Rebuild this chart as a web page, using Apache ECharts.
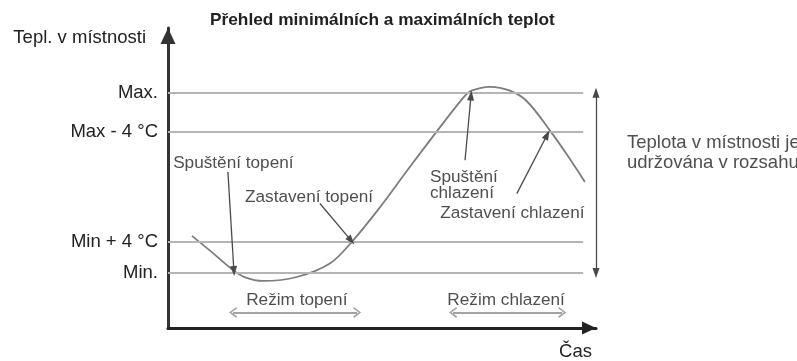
<!DOCTYPE html>
<html>
<head>
<meta charset="utf-8">
<script src="https://cdn.jsdelivr.net/npm/echarts@6/dist/echarts.min.js"></script>
<style>
  html, body { margin: 0; padding: 0; background: #fff; }
  #chart { width: 797px; height: 361px; }
</style>
</head>
<body>
<div id="chart"></div>
<script>
// Schematic room temperature profile: x = time (0..100), y = relative temperature (0..100)
const levelValues = [18.3, 28.8, 65.4, 78.4];
const levelNames = ['Min.', 'Min + 4 °C', 'Max - 4 °C', 'Max.'];
const levelLineEnd = 97;

const curveTime = [5.6, 10.3, 15.2, 18.0, 22.2, 30.1, 37.9, 43.0, 49.5, 56.1, 62.9, 69.2, 70.9, 75.2, 79.9, 83.9, 89.3, 93.2, 97.4];
const curveTemp = [30.7, 25.2, 19.3, 16.9, 15.7, 17.0, 21.6, 28.8, 40.2, 52.9, 65.7, 77.1, 79.1, 80.4, 79.1, 75.5, 65.7, 57.8, 48.7];

// Pointer arrows: [fromX, fromY, toX, toY]
const pointerArrows = [
  [14.0, 52.0, 15.4, 19.0],
  [35.5, 41.5, 42.8, 29.1],
  [69.4, 55.9, 70.8, 77.5],
  [81.5, 44.8, 88.6, 64.4]
];

// Operating mode spans: [startX, endX, y]
const modeSpans = [
  [15.2, 44.2, 5.2],
  [66.6, 92.1, 5.2]
];

// Text annotations: [x, y, text, align]
const notes = [
  [1.2, 54.9, 'Spuštění topení', 'left'],
  [18.0, 43.6, 'Zastavení topení', 'left'],
  [61.2, 47.6, 'Spuštění\nchlazení', 'left'],
  [63.6, 38.3, 'Zastavení chlazení', 'left'],
  [30.1, 9.3, 'Režim topení', 'center'],
  [79.0, 9.3, 'Režim chlazení', 'center']
];

const rangeX = 100;
const rangeNote = 'Teplota v místnosti je\nudržována v rozsahu';
const rangeNoteY = 58.5;

const FONT = '"Liberation Sans", Arial, sans-serif';
const chevron = 'path://M6,0 L12,9 L10.3,10 L6,3 L1.7,10 L0,9 Z';

const chart = echarts.init(document.getElementById('chart'), null, { renderer: 'canvas' });

const option = {
  backgroundColor: '#ffffff',
  animation: false,
  title: {
    text: 'Přehled minimálních a maximálních teplot',
    left: 205,
    top: 7,
    textStyle: { fontFamily: FONT, fontSize: 17.3, fontWeight: 'bold', color: '#222' }
  },
  grid: { left: 168, top: 28, right: 201, bottom: 27, containLabel: false },
  xAxis: {
    type: 'value',
    min: 0,
    max: 100,
    name: 'Čas',
    nameLocation: 'end',
    nameGap: -4,
    nameTextStyle: {
      fontFamily: FONT, fontSize: 18.5, color: '#222',
      align: 'right', verticalAlign: 'top', padding: [14, 0, 0, 0]
    },
    axisLine: {
      show: true,
      symbol: ['none', 'triangle'],
      symbolSize: [13, 14],
      symbolOffset: [0, -7],
      lineStyle: { color: '#222', width: 3 }
    },
    axisTick: { show: false },
    axisLabel: { show: false },
    splitLine: { show: false }
  },
  yAxis: {
    type: 'value',
    min: 0,
    max: 100,
    name: 'Tepl. v místnosti',
    nameLocation: 'end',
    nameGap: -10,
    nameTextStyle: {
      fontFamily: FONT, fontSize: 18.5, color: '#222',
      align: 'right', verticalAlign: 'middle', padding: [0, 22, 0, 0]
    },
    axisLine: {
      show: true,
      symbol: ['none', 'triangle'],
      symbolSize: [15, 16],
      symbolOffset: [0, -8],
      lineStyle: { color: '#333', width: 3 }
    },
    axisTick: { show: false },
    axisLabel: {
      show: true,
      customValues: levelValues,
      margin: 10,
      padding: [4, 0, 0, 0],
      fontFamily: FONT,
      fontSize: 18.5,
      color: '#222',
      formatter: function (v) {
        let best = 0;
        for (let i = 1; i < levelValues.length; i++) {
          if (Math.abs(levelValues[i] - v) < Math.abs(levelValues[best] - v)) best = i;
        }
        return levelNames[best];
      }
    },
    splitLine: { show: false }
  },
  series: [
    {
      name: 'levels',
      type: 'line',
      data: [],
      silent: true,
      markLine: {
        silent: true,
        symbol: ['none', 'none'],
        label: { show: false },
        lineStyle: { color: '#b5b5b5', width: 2, type: 'solid' },
        data: levelValues.map(v => [{ coord: [0, v] }, { coord: [levelLineEnd, v] }])
      },
      z: 1
    },
    {
      name: 'Teplota',
      type: 'line',
      data: curveTime.map((t, i) => [t, curveTemp[i]]),
      smooth: 0.35,
      symbol: 'none',
      silent: true,
      lineStyle: { color: '#7d7d7d', width: 1.8 },
      z: 3
    },
    {
      name: 'pointers',
      type: 'line',
      data: [],
      silent: true,
      markLine: {
        silent: true,
        symbol: ['none', 'triangle'],
        symbolSize: [7, 10],
        label: { show: false },
        lineStyle: { color: '#4a4a4a', width: 1.3, type: 'solid' },
        data: pointerArrows.map(a => [{ coord: [a[0], a[1]] }, { coord: [a[2], a[3]] }])
          .concat([[{ coord: [rangeX, levelValues[0]], symbol: 'triangle' }, { coord: [rangeX, levelValues[3]] }]])
      }
    },
    {
      name: 'modes',
      type: 'line',
      data: [],
      silent: true,
      markLine: {
        silent: true,
        symbol: [chevron, chevron],
        symbolSize: [11, 8],
        label: { show: false },
        lineStyle: { color: '#a3a3a3', width: 2, type: 'solid' },
        data: modeSpans.map(s => [{ coord: [s[0], s[2]] }, { coord: [s[1], s[2]] }])
      }
    },
    {
      name: 'notes',
      type: 'scatter',
      silent: true,
      symbolSize: 0,
      data: notes.map(n => ({
        value: [n[0], n[1]],
        label: {
          show: true,
          formatter: n[2],
          position: n[3] === 'left' ? 'right' : 'inside',
          distance: 0,
          align: n[3],
          verticalAlign: 'middle',
          fontFamily: FONT,
          fontSize: 17.2,
          lineHeight: 16,
          color: '#222'
        }
      })).concat([{
        value: [rangeX, rangeNoteY],
        label: {
          show: true,
          formatter: rangeNote,
          position: 'right',
          distance: 31,
          align: 'left',
          verticalAlign: 'middle',
          fontFamily: FONT,
          fontSize: 18.5,
          lineHeight: 20,
          color: '#222'
        }
      }]),
      z: 5
    }
  ]
};

chart.setOption(option);
</script>
</body>
</html>
